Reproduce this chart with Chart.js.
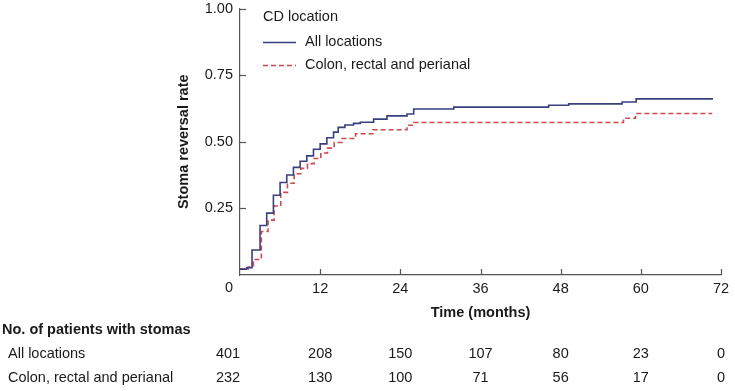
<!DOCTYPE html>
<html>
<head>
<meta charset="utf-8">
<script src="https://cdn.jsdelivr.net/npm/chart.js@4.4.0/dist/chart.umd.min.js"></script>
<style>
  html, body { margin: 0; padding: 0; background: #ffffff; }
  #wrap { width: 735px; height: 391px; position: relative; }
</style>
</head>
<body>
<div id="wrap"><canvas id="c" width="735" height="391"></canvas></div>
<script>
// ---- Data ----
const legendTitle = 'CD location';
const seriesNames = ['All locations', 'Colon, rectal and perianal'];

const allTimes = [0, 1.0, 1.8, 3.0, 4.0, 5.0, 6.0, 7.0, 8.0, 9.0, 10.0, 11.0, 12.0, 13.0, 14.0, 14.7, 15.7, 17.0, 18.0, 20.0, 22.0, 25.0, 26.0, 32.0, 46.2, 49.2, 57.2, 59.3, 70.8];
const allRates = [0.022, 0.027, 0.094, 0.186, 0.232, 0.299, 0.347, 0.375, 0.404, 0.427, 0.447, 0.472, 0.492, 0.515, 0.536, 0.554, 0.563, 0.569, 0.573, 0.585, 0.597, 0.604, 0.623, 0.630, 0.637, 0.642, 0.649, 0.661, 0.661];

const colonTimes = [0, 1.2, 2.0, 3.2, 4.2, 5.1, 6.1, 7.1, 8.1, 9.1, 10.1, 11.1, 12.1, 13.1, 14.1, 15.3, 17.3, 19.9, 25.0, 26.0, 57.4, 59.2, 70.7];
const colonRates = [0.022, 0.030, 0.058, 0.163, 0.206, 0.259, 0.310, 0.344, 0.380, 0.400, 0.418, 0.437, 0.458, 0.476, 0.497, 0.512, 0.530, 0.545, 0.562, 0.572, 0.588, 0.606, 0.606];

const xTicks = [0, 12, 24, 36, 48, 60, 72];
const yTicks = [0, 0.25, 0.5, 0.75, 1.0];

const riskTitle = 'No. of patients with stomas';
const riskAll = [401, 208, 150, 107, 80, 23, 0];
const riskColon = [232, 130, 100, 71, 56, 17, 0];

// ---- Styling ----
const FONT = "'Liberation Sans', Arial, Helvetica, sans-serif";
const TXT = '#1a1a1a';
const AXIS = '#555555';
const BLUE = '#3a3f7e';
const RED = '#cc4a50';

function pts(xs, ys) { return xs.map((x, i) => ({ x: x, y: ys[i] })); }

const overlay = {
  id: 'overlay',
  afterDraw(chart) {
    const ctx = chart.ctx;
    const xs = chart.scales.x, ys = chart.scales.y;
    const area = chart.chartArea;
    ctx.save();
    // inward tick marks
    ctx.strokeStyle = AXIS;
    ctx.lineWidth = 1.2;
    xTicks.forEach(v => {
      if (v === 0) return;
      const px = Math.round(xs.getPixelForValue(v)) + 0.5;
      ctx.beginPath(); ctx.moveTo(px, area.bottom); ctx.lineTo(px, area.bottom - 6); ctx.stroke();
    });
    yTicks.forEach(v => {
      if (v === 0) return;
      const py = Math.round(ys.getPixelForValue(v)) + 0.5;
      ctx.beginPath(); ctx.moveTo(area.left, py); ctx.lineTo(area.left + 6, py); ctx.stroke();
    });
    // corner "0" label
    ctx.fillStyle = TXT;
    ctx.font = '14.5px ' + FONT;
    ctx.textAlign = 'center';
    ctx.textBaseline = 'middle';
    ctx.fillText('0', xs.getPixelForValue(0) - 11, 288);

    // legend
    const lx = 263;
    ctx.textAlign = 'left';
    ctx.fillText(legendTitle, lx, 17);
    const ds = chart.data.datasets;
    const rowsY = [42, 65];
    ds.forEach((d, i) => {
      ctx.strokeStyle = d.borderColor;
      ctx.lineWidth = d.borderWidth;
      ctx.setLineDash(d.borderDash || []);
      ctx.beginPath(); ctx.moveTo(lx, rowsY[i] + 0.5); ctx.lineTo(lx + 33, rowsY[i] + 0.5); ctx.stroke();
      ctx.setLineDash([]);
      ctx.fillStyle = TXT;
      ctx.fillText(d.label, 305, rowsY[i]);
    });

    // number-at-risk table
    ctx.font = 'bold 14.5px ' + FONT;
    ctx.textAlign = 'left';
    ctx.fillText(riskTitle, 2, 330);
    ctx.font = '14.5px ' + FONT;
    ctx.fillText(seriesNames[0], 8, 354);
    ctx.fillText(seriesNames[1], 8, 378);
    ctx.textAlign = 'center';
    xTicks.forEach((t, i) => {
      let px = xs.getPixelForValue(t);
      if (t === 0) px -= 12;
      ctx.fillText(String(riskAll[i]), px, 354);
      ctx.fillText(String(riskColon[i]), px, 378);
    });
    ctx.restore();
  }
};

new Chart(document.getElementById('c'), {
  type: 'line',
  data: {
    datasets: [
      {
        label: seriesNames[0],
        data: pts(allTimes, allRates),
        borderColor: BLUE,
        borderWidth: 1.6,
        stepped: 'before',
        pointRadius: 0,
        fill: false
      },
      {
        label: seriesNames[1],
        data: pts(colonTimes, colonRates),
        borderColor: RED,
        borderWidth: 1.6,
        borderDash: [5, 3],
        stepped: 'before',
        pointRadius: 0,
        fill: false
      }
    ]
  },
  options: {
    responsive: false,
    animation: false,
    devicePixelRatio: 1,
    layout: { padding: { left: 175, right: 14, top: 8.5, bottom: 69 } },
    plugins: { legend: { display: false }, tooltip: { enabled: false } },
    scales: {
      x: {
        type: 'linear',
        min: 0, max: 72,
        afterBuildTicks: s => { s.ticks = xTicks.map(v => ({ value: v })); },
        ticks: {
          callback: v => (v === 0 ? '' : String(v)),
          color: TXT,
          font: { family: FONT, size: 14.5 },
          padding: 5,
          maxRotation: 0
        },
        grid: { drawOnChartArea: false, drawTicks: false },
        border: { display: true, color: AXIS, width: 1.2 },
        title: {
          display: true,
          text: 'Time (months)',
          color: TXT,
          font: { family: FONT, size: 14.5, weight: 'bold' },
          padding: { top: 0, bottom: 0 }
        },
        afterFit: s => { s.height = 47; s.paddingLeft = 0; s.paddingRight = 0; }
      },
      y: {
        type: 'linear',
        min: 0, max: 1,
        afterBuildTicks: s => { s.ticks = yTicks.map(v => ({ value: v })); },
        ticks: {
          callback: v => (v === 0 ? '' : v.toFixed(2)),
          color: TXT,
          font: { family: FONT, size: 14.5 },
          padding: 7
        },
        grid: { drawOnChartArea: false, drawTicks: false },
        border: { display: true, color: AXIS, width: 1.2 },
        title: {
          display: true,
          text: 'Stoma reversal rate',
          color: TXT,
          font: { family: FONT, size: 14.5, weight: 'bold' },
          padding: { top: 0, bottom: 0 }
        },
        afterFit: s => { s.width = 65; s.paddingTop = 0; s.paddingBottom = 0; }
      }
    }
  },
  plugins: [overlay]
});
</script>
</body>
</html>
